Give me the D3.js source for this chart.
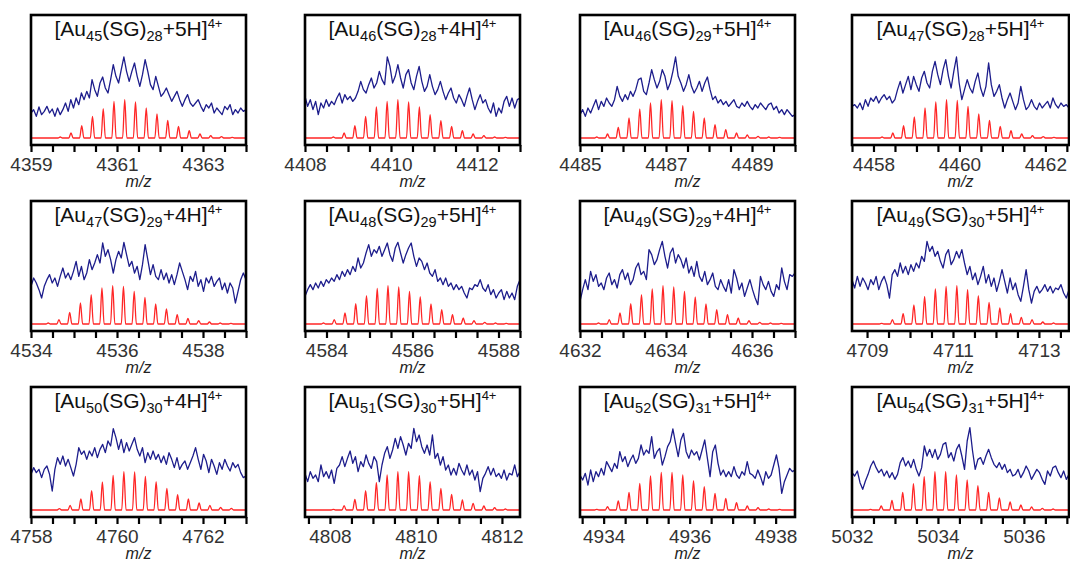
<!DOCTYPE html>
<html>
<head>
<meta charset="utf-8">
<script src="https://cdn.jsdelivr.net/npm/d3@7"></script>
<style>
body { margin: 0; background: #fff; }
svg text { font-family: "Liberation Sans", Arial, sans-serif; }
</style>
</head>
<body>
<script>
// cluster composition for each panel title
const auCount = [45, 46, 46, 47, 47, 48, 49, 49, 50, 51, 52, 54];
const sgCount = [28, 28, 29, 28, 29, 29, 29, 30, 30, 30, 31, 31];
const hCount  = [5, 4, 5, 5, 4, 5, 4, 5, 4, 5, 5, 5];
const chargeLabel = '4+';

// m/z window of every panel
const mzStart = [4359, 4408, 4485, 4457.5, 4534, 4583.5, 4632, 4708.65, 4758, 4807.42, 4933.45, 5032];
const mzEnd   = [4364, 4413, 4490, 4462.55, 4539, 4588.5, 4637, 4713.7, 4763, 4812.42, 4938.45, 5037.05];

const tickLabels = [
  [4359, 4361, 4363], [4408, 4410, 4412], [4485, 4487, 4489], [4458, 4460, 4462],
  [4534, 4536, 4538], [4584, 4586, 4588], [4632, 4634, 4636], [4709, 4711, 4713],
  [4758, 4760, 4762], [4808, 4810, 4812], [4934, 4936, 4938], [5032, 5034, 5036]
];

// simulated isotope pattern (red): first peak m/z, peaks every 0.25 (z = 4)
const isoSpacing = 0.25;
const simFirstPeak = [4359.68, 4408.66, 4485.39, 4458.2, 4534.40, 4583.93, 4632.43, 4709.34, 4758.66, 4808.08, 4933.84, 5032.43];
const simHeights = [
  [3,15,37,65,88,110,115,108,90,72,53,35,22,12,7,4,2],
  [3,15,37,65,93,110,115,108,93,70,52,35,22,12,7,3,2],
  [3,12,32,60,87,105,115,112,97,80,60,40,25,15,9,5,3,2],
  [3,15,37,63,90,108,115,113,95,72,53,35,22,12,7,4,2],
  [3,13,35,63,88,108,115,113,98,80,60,45,28,17,10,6,3,2],
  [3,13,33,61,85,107,115,111,98,82,60,43,28,18,10,5,3,2],
  [3,13,33,61,88,105,115,111,98,81,60,43,28,18,10,5,3,2],
  [2,13,31,57,83,105,113,115,103,85,65,48,31,20,13,6,3],
  [4,14,33,58,84,104,115,114,101,85,65,46,33,21,14,8,5],
  [2,13,32,58,83,105,115,115,103,85,65,47,30,20,12,7,3],
  [2,10,27,53,80,102,113,113,105,88,70,50,35,22,12,7,3,2],
  [2,12,29,53,79,100,115,115,105,90,73,53,36,24,15,9,5,3]
];

// experimental spectrum (blue), evenly sampled across each window
const expIntensity = [
  [75,85,65,93,70,80,95,75,87,65,90,70,85,105,80,115,90,120,100,135,115,140,120,175,145,125,165,183,150,135,175,220,185,165,205,243,200,170,200,225,185,155,190,235,200,160,145,185,155,125,135,150,130,110,125,140,115,95,115,130,105,95,105,115,95,80,100,90,105,75,90,80,70,95,85,100,70,85,75,90,80,85],
  [125,95,115,85,110,70,105,90,115,95,110,100,120,135,105,130,115,125,110,120,140,170,145,135,160,180,150,165,200,175,160,243,215,165,185,220,180,150,190,205,165,145,185,215,170,140,155,190,155,130,145,170,140,115,135,150,120,105,130,115,95,125,150,115,85,110,130,105,115,90,75,105,65,90,75,110,125,95,120,90,115,120],
  [70,85,65,90,75,95,115,85,110,95,120,105,95,115,155,125,110,130,115,140,125,145,175,180,140,130,165,205,175,150,170,205,185,145,165,200,243,185,165,140,160,190,155,135,150,170,140,165,183,145,115,125,105,115,100,110,95,105,115,95,90,105,95,110,95,85,100,90,105,95,85,100,105,85,95,75,85,70,85,75,65,70],
  [95,100,90,105,85,115,95,120,110,125,105,120,130,115,125,105,115,145,170,135,160,185,145,185,160,140,180,200,165,150,200,230,190,160,205,235,185,150,200,243,165,115,145,175,150,135,170,195,150,125,155,225,160,125,140,160,120,90,115,135,110,85,105,155,115,85,95,115,95,85,105,90,100,110,90,120,100,90,105,95,100,90],
  [113,138,123,103,78,113,133,148,123,138,113,143,168,138,153,133,158,188,143,173,133,153,193,163,183,208,183,243,203,223,193,153,193,218,198,245,208,173,188,153,173,133,178,238,193,148,178,143,133,163,133,153,123,148,118,148,183,158,133,103,143,128,158,113,133,98,138,123,143,113,128,138,103,123,93,123,108,63,98,133,153,133],
  [83,103,118,103,123,108,128,113,133,123,138,128,148,133,158,143,163,148,173,158,198,168,183,213,238,203,223,213,233,203,223,243,208,188,228,245,213,183,208,228,243,203,173,198,188,163,183,153,143,163,128,138,118,138,113,123,103,118,103,113,93,78,108,103,118,113,133,108,98,118,88,103,78,93,103,73,98,78,93,73,113,133],
  [68,103,133,103,158,128,148,113,123,103,138,153,118,133,108,148,163,133,153,118,133,168,183,148,158,133,223,208,178,193,223,248,203,168,213,228,183,208,193,168,198,153,173,143,188,143,128,158,118,133,153,113,103,133,113,98,133,93,163,138,103,123,83,108,133,103,78,58,143,118,103,128,98,83,118,103,168,128,103,148,143,153],
  [133,108,143,113,138,123,103,133,118,143,103,128,143,118,78,148,163,143,183,153,173,148,178,158,183,168,203,188,248,218,233,203,218,188,168,208,223,178,193,218,198,223,183,148,173,133,153,118,143,173,123,148,113,138,98,128,163,128,93,138,103,123,88,68,113,163,103,63,98,113,93,103,118,98,113,93,108,103,118,93,78,103],
  [107,127,112,122,97,122,132,107,57,122,157,137,162,132,152,127,102,137,187,167,177,152,177,162,187,157,182,197,172,207,192,244,217,182,212,172,202,177,197,217,182,162,187,142,172,152,177,152,167,142,162,137,172,152,127,157,122,137,147,122,142,162,187,152,122,167,147,112,152,132,107,142,122,152,132,117,142,127,137,112,97,102],
  [110,85,115,95,105,85,135,100,115,95,120,80,125,135,160,130,155,177,140,160,115,145,130,165,140,125,160,145,85,135,170,190,155,180,215,185,220,195,165,200,185,245,205,225,190,170,195,165,225,155,170,135,160,120,135,105,125,105,140,120,105,135,105,120,90,115,55,95,110,130,105,125,100,110,95,120,90,110,105,135,100,115],
  [105,90,110,75,120,85,115,100,125,105,145,130,115,140,125,175,145,160,130,150,165,140,155,195,165,180,170,220,155,175,185,135,160,190,205,243,200,160,210,230,175,155,180,165,175,150,180,210,155,100,175,195,140,105,120,100,115,100,130,105,95,115,105,145,110,105,95,120,100,75,115,95,105,135,165,125,50,85,105,125,115,120],
  [112,102,117,82,62,87,107,132,147,127,112,122,102,117,97,112,92,107,142,157,132,147,127,152,122,102,127,192,162,182,157,182,152,167,197,202,157,172,147,182,197,162,122,207,247,177,122,152,157,137,162,182,157,137,127,142,122,137,112,122,102,107,122,97,112,132,117,92,107,122,112,92,77,117,102,127,132,112,97,117,92,107]
];

// layout
const svgW = 1070, svgH = 563;
const colX = [31, 305, 580, 852];
const colW = [215, 215, 215, 217];
const rowY = [15, 201, 387];
const frameH = 130;
const peakHalfWidth = 0.05;

const svg = d3.select('body').append('svg')
  .attr('width', svgW).attr('height', svgH);

auCount.forEach((au, i) => {
  const col = i % 4, row = Math.floor(i / 4);
  const w = colW[col];
  const g = svg.append('g').attr('transform', `translate(${colX[col]},${rowY[row]})`);

  const x = d3.scaleLinear().domain([mzStart[i], mzEnd[i]]).range([0, w]);
  const y = d3.scaleLinear().domain([-21, 369]).range([frameH, 0]);

  // blue experimental trace
  const exp = expIntensity[i];
  const step = (mzEnd[i] - mzStart[i]) / (exp.length - 1);
  const expPts = exp.map((v, k) => ({mz: mzStart[i] + k * step, v: v}));
  g.append('path').datum(expPts)
    .attr('d', d3.line().x(d => x(d.mz)).y(d => y(d.v)))
    .style('fill', 'none').style('stroke', '#1d1d8c')
    .style('stroke-width', 1.3).style('stroke-linejoin', 'round');

  // red simulated pattern
  const simPts = [{mz: mzStart[i], v: 0}];
  simHeights[i].forEach((h, k) => {
    const c = simFirstPeak[i] + k * isoSpacing;
    simPts.push({mz: c - peakHalfWidth, v: 0}, {mz: c, v: h}, {mz: c + peakHalfWidth, v: 0});
  });
  simPts.push({mz: mzEnd[i], v: 0});
  g.append('path').datum(simPts)
    .attr('d', d3.line().curve(d3.curveMonotoneX).x(d => x(d.mz)).y(d => y(d.v)))
    .style('fill', 'none').style('stroke', '#ff2626').style('stroke-width', 1.3);

  // frame
  g.append('rect').attr('x', 0).attr('y', 0).attr('width', w).attr('height', frameH)
    .style('fill', 'none').style('stroke', '#000').style('stroke-width', 2.6);

  // x axis, minor ticks every 0.5
  const tickVals = d3.range(Math.ceil(mzStart[i] * 2) / 2, mzEnd[i] + 1e-6, 0.5);
  const xAxis = d3.axisBottom(x).tickValues(tickVals)
    .tickSize(7).tickPadding(5.5)
    .tickFormat(d => tickLabels[i].some(t => Math.abs(t - d) < 1e-6) ? d : '');
  const ax = g.append('g').attr('transform', `translate(0,${frameH})`).call(xAxis);
  ax.select('.domain').remove();
  ax.selectAll('.tick line').style('stroke', '#000').style('stroke-width', 2.2);
  ax.selectAll('.tick text').style('font-size', '19px').style('fill', '#333')
    .style('font-family', '"Liberation Sans", Arial, sans-serif');

  g.append('text').attr('x', w / 2).attr('y', frameH + 42)
    .attr('text-anchor', 'middle').style('font-size', '16px')
    .style('font-style', 'italic').style('fill', '#222').text('m/z');

  // title [Au_n(SG)_m+kH]^4+
  const t = g.append('text').attr('x', w / 2).attr('y', 21)
    .attr('text-anchor', 'middle').style('font-size', '21px').style('fill', '#111');
  t.append('tspan').text('[Au');
  t.append('tspan').attr('dy', 5).style('font-size', '14.5px').text(au);
  t.append('tspan').attr('dy', -5).text('(SG)');
  t.append('tspan').attr('dy', 5).style('font-size', '14.5px').text(sgCount[i]);
  t.append('tspan').attr('dy', -5).text(`+${hCount[i]}H]`);
  t.append('tspan').attr('dy', -8).style('font-size', '13px').text(chargeLabel);
});
</script>
</body>
</html>
